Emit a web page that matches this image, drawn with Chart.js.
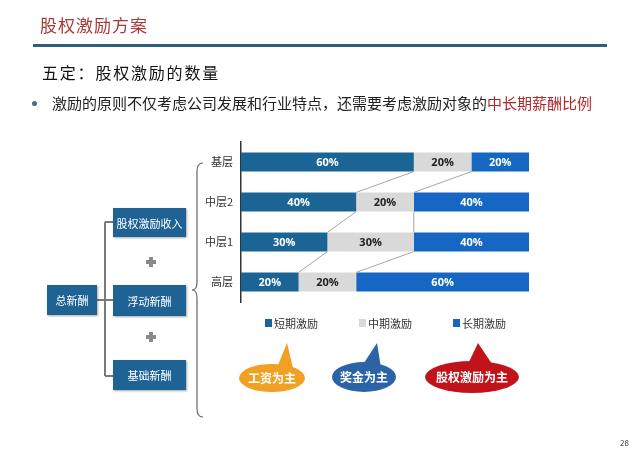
<!DOCTYPE html>
<html>
<head>
<meta charset="utf-8">
<script src="https://cdn.jsdelivr.net/npm/chart.js@4.4.1/dist/chart.umd.min.js"></script>
<style>
body { margin: 0; background: #fff; font-family: "Noto Sans CJK SC", "Noto Sans", sans-serif; }
#page { position: relative; width: 640px; height: 454px; overflow: hidden; background: #fff; }
#chart { position: absolute; left: 0; top: 0; }
.abs { position: absolute; white-space: nowrap; }
#title { left: 40px; top: 13px; font-size: 17px; line-height: 24px; color: #a53a3a; letter-spacing: 1px; }
#rule { left: 33px; top: 44px; width: 574px; height: 3px; background: #2f5d7c; }
#sub { left: 42px; top: 61px; font-size: 16px; line-height: 22px; color: #111; letter-spacing: 1.8px; }
#dot { left: 32px; top: 101px; width: 5px; height: 5px; border-radius: 50%; background: #4a6a8a; }
#bullet { left: 52px; top: 93px; font-size: 15px; line-height: 20px; color: #222; }
#bullet span { color: #b0282d; }
.box { position: absolute; background: #1f6394; color: #fff; font-size: 11px; display: flex;
  align-items: center; justify-content: center; box-shadow: 1px 1px 2px rgba(0,0,0,0.35); }
#legend { position: absolute; left: 265px; top: 315px; display: flex; gap: 41px; font-size: 11px; color: #333; }
#legend div { display: flex; align-items: center; line-height: 16px; }
#legend i { display: inline-block; width: 7px; height: 8px; margin-right: 2px; }
#pageno { left: 620px; top: 437px; font-size: 8px; color: #444; }
svg { position: absolute; left: 0; top: 0; }
</style>
</head>
<body>
<div id="page">
  <canvas id="chart" width="640" height="454"></canvas>
  <div id="title" class="abs">股权激励方案</div>
  <div id="rule" class="abs"></div>
  <div id="sub" class="abs">五定：股权激励的数量</div>
  <div id="dot" class="abs"></div>
  <div id="bullet" class="abs">激励的原则不仅考虑公司发展和行业特点，还需要考虑激励对象的<span>中长期薪酬比例</span></div>

  <svg width="640" height="454">
    <!-- tree connectors -->
    <g stroke="#7a7a7a" stroke-width="2" fill="none">
      <path d="M97 300 H105 M105 222 V376 M105 222 H113 M105 300 H113 M105 376 H113"/>
    </g>
    <g fill="#8a8a8a">
      <rect x="146" y="260" width="10" height="4"/><rect x="149" y="257" width="4" height="10"/>
      <rect x="146" y="335" width="10" height="4"/><rect x="149" y="332" width="4" height="10"/>
    </g>
    <!-- brace -->
    <path d="M203 163 Q197 163 197 171 L197 282 Q197 290 192 290 Q197 290 197 298 L197 409 Q197 417 203 417"
          stroke="#666" stroke-width="1.2" fill="none"/>
    <!-- speech bubbles -->
    <g>
      <path d="M276 370 L287 343 L294 372 Z" fill="#f0a023"/>
      <ellipse cx="272" cy="378" rx="33" ry="14" fill="#f0a023"/>
      <path d="M362 366 L377 343 L381 368 Z" fill="#2b63a7"/>
      <ellipse cx="364" cy="377" rx="32" ry="15" fill="#2b63a7"/>
      <path d="M468 364 L478 343 L492 364 Z" fill="#c0141a"/>
      <ellipse cx="472" cy="377" rx="47" ry="16" fill="#c0141a"/>
      <g fill="#fff" font-size="12" font-weight="bold" text-anchor="middle" font-family="Noto Sans CJK SC">
        <text x="272" y="383">工资为主</text>
        <text x="364" y="382">奖金为主</text>
        <text x="472" y="382">股权激励为主</text>
      </g>
    </g>
  </svg>

  <div class="box" style="left:47px;top:285px;width:50px;height:30px;">总新酬</div>
  <div class="box" style="left:113px;top:208px;width:73px;height:29px;">股权激励收入</div>
  <div class="box" style="left:113px;top:285px;width:73px;height:31px;">浮动新酬</div>
  <div class="box" style="left:113px;top:360px;width:73px;height:30px;">基础新酬</div>

  <div id="legend"></div>
  <div id="pageno" class="abs">28</div>
</div>
<script>
// levels, top to bottom
var levels = ['基层', '中层2', '中层1', '高层'];
var seriesNames = ['短期激励', '中期激励', '长期激励'];
var shortTerm = [60, 40, 30, 20];
var midTerm = [20, 20, 30, 20];
var longTerm = [20, 40, 40, 60];
var seriesColors = ['#1a6496', '#d9d9d9', '#1667c4'];
var labelColors = ['#fff', '#222', '#fff'];

// html legend
var legendEl = document.getElementById('legend');
seriesNames.forEach(function(name, i) {
    var item = document.createElement('div');
    item.innerHTML = '<i style="background:' + seriesColors[i] + '"></i>' + name;
    legendEl.appendChild(item);
});

// grey lines joining the segment edges of neighbouring bars
var seriesLines = {
    id: 'seriesLines',
    afterDatasetsDraw: function(chart) {
        var ctx = chart.ctx;
        ctx.save();
        ctx.strokeStyle = '#a6a6a6';
        ctx.lineWidth = 1;
        for (var d = 0; d < chart.data.datasets.length - 1; d++) {
            var bars = chart.getDatasetMeta(d).data;
            for (var i = 0; i < bars.length - 1; i++) {
                var a = bars[i], b = bars[i + 1];
                ctx.beginPath();
                ctx.moveTo(a.x, a.y + a.height / 2);
                ctx.lineTo(b.x, b.y - b.height / 2);
                ctx.stroke();
            }
        }
        ctx.restore();
    }
};

// percent labels inside each segment
var valueLabels = {
    id: 'valueLabels',
    afterDatasetsDraw: function(chart) {
        var ctx = chart.ctx;
        ctx.save();
        ctx.font = 'bold 11px "Open Sans", sans-serif';
        ctx.textAlign = 'center';
        ctx.textBaseline = 'middle';
        chart.data.datasets.forEach(function(ds, d) {
            chart.getDatasetMeta(d).data.forEach(function(bar, i) {
                ctx.fillStyle = labelColors[d];
                ctx.fillText(ds.data[i] + '%', (bar.x + bar.base) / 2, bar.y + 1);
            });
        });
        ctx.restore();
    }
};

var ctx = document.getElementById('chart').getContext('2d');
var myChart = new Chart(ctx, {
    type: 'bar',
    data: {
        labels: levels,
        datasets: [shortTerm, midTerm, longTerm].map(function(values, i) {
            return {
                label: seriesNames[i],
                data: values,
                backgroundColor: seriesColors[i],
                borderWidth: 0,
                categoryPercentage: 1,
                barPercentage: 0.48
            };
        })
    },
    options: {
        indexAxis: 'y',
        responsive: false,
        animation: false,
        layout: { padding: { left: 201, right: 111, top: 142, bottom: 152 } },
        scales: {
            x: { display: false, stacked: true, min: 0, max: 100 },
            y: {
                stacked: true,
                grid: { display: false, drawTicks: false },
                border: { display: true, color: '#333', width: 1.5 },
                ticks: { color: '#333', padding: 8, font: { family: 'Noto Sans CJK SC', size: 11 } },
                afterFit: function(scale) { scale.width = 40; }
            }
        },
        plugins: {
            legend: { display: false },
            tooltip: { enabled: false }
        }
    },
    plugins: [seriesLines, valueLabels]
});
</script>
</body>
</html>
